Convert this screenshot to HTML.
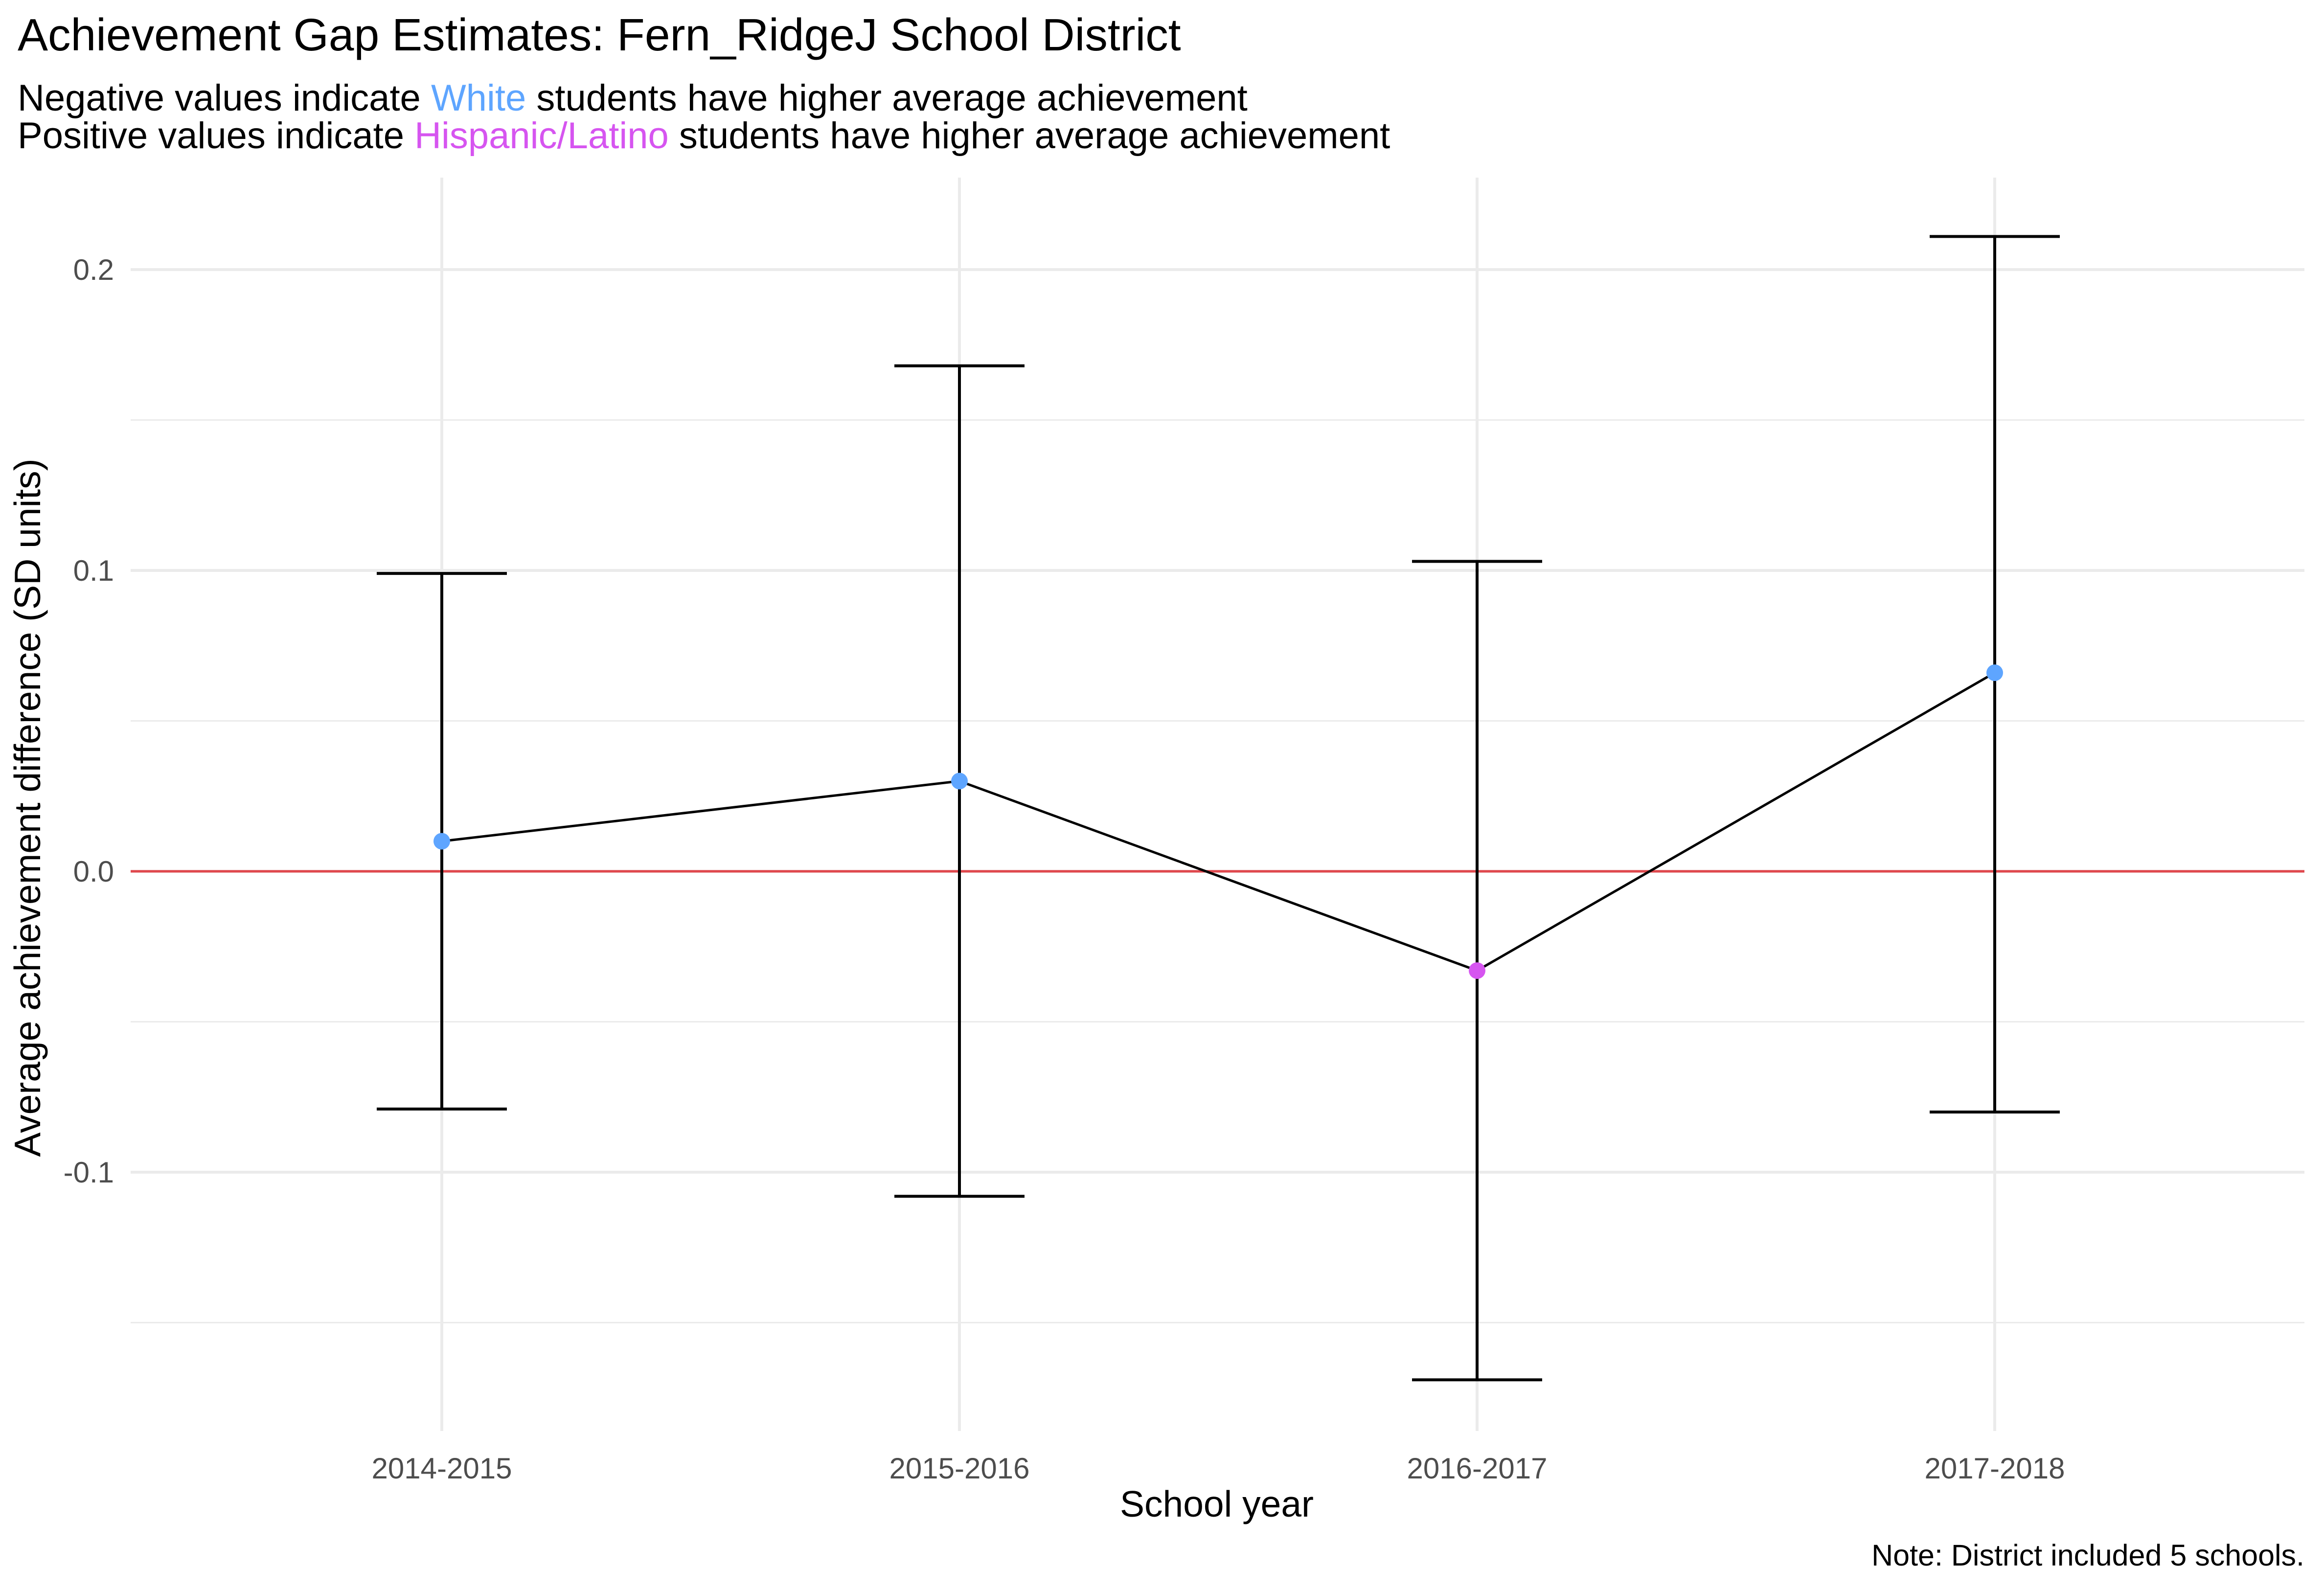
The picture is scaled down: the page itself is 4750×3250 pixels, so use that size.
<!DOCTYPE html>
<html><head><meta charset="utf-8"><style>
html,body{margin:0;padding:0;background:#fff;}
svg{display:block;font-family:"Liberation Sans",Arial,sans-serif;}
</style></head><body>
<svg id="chart" width="4750" height="3250" viewBox="0 0 4750 3250" xmlns="http://www.w3.org/2000/svg">
<rect width="4750" height="3250" fill="#fff"/>
<text x="36" y="103" font-size="93" fill="#000">Achievement Gap Estimates: Fern_RidgeJ School District</text>
<text x="36" y="226" font-size="76" fill="#000">Negative values indicate <tspan fill="#5EA5FF">White</tspan> students have higher average achievement</text>
<text x="36" y="303" font-size="76" fill="#000">Positive values indicate <tspan fill="#D655F0">Hispanic/Latino</tspan> students have higher average achievement</text>
<g id="grid"></g>
<g id="axes"></g>
<g id="marks"></g>
<text x="2487" y="3100" font-size="75" text-anchor="middle" fill="#000">School year</text>
<text transform="translate(82,1651) rotate(-90)" font-size="75" text-anchor="middle" fill="#000">Average achievement difference (SD units)</text>
<text x="4710" y="3200" font-size="61" text-anchor="end" fill="#000">Note: District included 5 schools.</text>
</svg>
<script>
const categories = ["2014-2015","2015-2016","2016-2017","2017-2018"];
const estimates = [0.010, 0.030, -0.033, 0.066];
const upper = [0.099, 0.168, 0.103, 0.211];
const lower = [-0.079, -0.108, -0.169, -0.080];
const yTicks = [-0.1, 0.0, 0.1, 0.2];
const yTickLabels = ["-0.1","0.0","0.1","0.2"];
const yMinor = [-0.15, -0.05, 0.05, 0.15];

const NS = "http://www.w3.org/2000/svg";
const plotLeft = 267, plotRight = 4710, plotTop = 363, plotBottom = 2925;
function y(v){ return 1781 - v * 6150; }
function x(i){ return 903 + i * 1058; }
function mk(tag, attrs, parent){ const e = document.createElementNS(NS, tag); for (const k in attrs) e.setAttribute(k, attrs[k]); parent.appendChild(e); return e; }
const grid = document.getElementById('grid'), axes = document.getElementById('axes'), marks = document.getElementById('marks');

yMinor.forEach(v => {
  const l = mk('line', {x1:plotLeft, x2:plotRight, y1:y(v), y2:y(v), stroke:'#EBEBEB', 'stroke-width':3}, grid);
  
  
});
yTicks.forEach((v, i) => {
  const l = mk('line', {x1:plotLeft, x2:plotRight, y1:y(v), y2:y(v), stroke:'#EBEBEB', 'stroke-width':6}, grid);
  
  
  const t = mk('text', {x:233, y:y(v)+21, 'font-size':60, 'text-anchor':'end', fill:'#4D4D4D'}, axes);
  t.textContent = yTickLabels[i];
  
  
});
categories.forEach((c, i) => {
  const l = mk('line', {x1:x(i), x2:x(i), y1:plotTop, y2:plotBottom, stroke:'#EBEBEB', 'stroke-width':6}, grid);
  
  
  const t = mk('text', {x:x(i), y:3022, 'font-size':60, 'text-anchor':'middle', fill:'#4D4D4D'}, axes);
  t.textContent = c;
  
  
});
const zl = mk('line', {x1:plotLeft, x2:plotRight, y1:y(0), y2:y(0), stroke:'#E0474C', 'stroke-width':5}, marks);



categories.forEach((c, i) => {
  const g = mk('g', {stroke:'#000', 'stroke-width':6, fill:'none'}, marks);
  
  
  mk('line', {x1:x(i), x2:x(i), y1:y(upper[i]), y2:y(lower[i])}, g);
  mk('line', {x1:x(i)-133, x2:x(i)+133, y1:y(upper[i]), y2:y(upper[i])}, g);
  mk('line', {x1:x(i)-133, x2:x(i)+133, y1:y(lower[i]), y2:y(lower[i])}, g);
});
const pl = mk('polyline', {points: estimates.map((v,i)=>x(i)+','+y(v)).join(' '), fill:'none', stroke:'#000', 'stroke-width':5}, marks);


estimates.forEach((v, i) => {
  const p = mk('circle', {cx:x(i), cy:y(v), r:17, fill: v >= 0 ? '#5EA5FF' : '#D655F0'}, marks);
  
  
});
</script>
</body></html>
